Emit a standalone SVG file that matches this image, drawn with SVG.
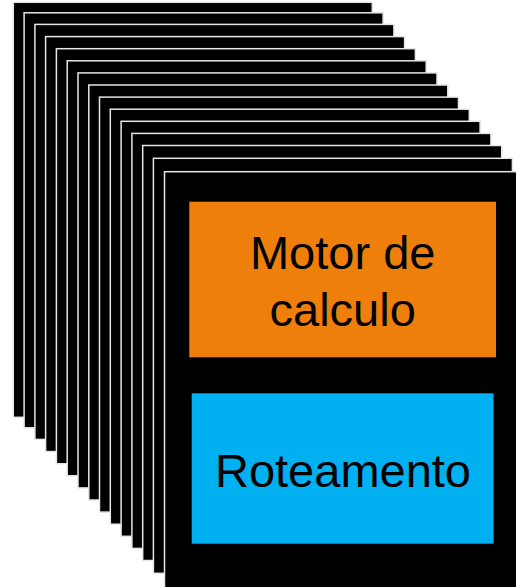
<svg xmlns="http://www.w3.org/2000/svg" width="516" height="587" viewBox="0 0 516 587">
<style>
.layer{fill:#000;stroke:#e6e6e6;stroke-width:1.5}
.lbl{font-family:"Liberation Sans",Arial,sans-serif;font-size:47px;fill:#000;text-anchor:middle}
</style>
<rect width="516" height="587" fill="#fff"/>
<g id="stack">
<rect class="layer" x="13.3" y="2.3" width="359" height="415"/>
<rect class="layer" x="24.1" y="12.8" width="359" height="415"/>
<rect class="layer" x="34.9" y="24.4" width="359" height="415"/>
<rect class="layer" x="45.6" y="36.6" width="359" height="415"/>
<rect class="layer" x="56.4" y="48.7" width="359" height="415"/>
<rect class="layer" x="67.2" y="60.8" width="359" height="415"/>
<rect class="layer" x="78.0" y="72.9" width="359" height="415"/>
<rect class="layer" x="88.8" y="85.0" width="359" height="415"/>
<rect class="layer" x="99.5" y="97.1" width="359" height="415"/>
<rect class="layer" x="110.3" y="109.2" width="359" height="415"/>
<rect class="layer" x="121.1" y="121.3" width="359" height="415"/>
<rect class="layer" x="131.9" y="133.4" width="359" height="415"/>
<rect class="layer" x="142.7" y="145.5" width="359" height="415"/>
<rect class="layer" x="153.4" y="158.3" width="359" height="415"/>
<rect class="layer" x="164.5" y="171.7" width="359" height="417"/>
</g>
<g id="motor">
<rect x="189.3" y="201.7" width="306.7" height="155.6" fill="#EE7F0A"/>
<text class="lbl" x="342.7" y="268.5">Motor de</text>
<text class="lbl" x="342.7" y="325.5">calculo</text>
</g>
<g id="roteamento">
<rect x="191.7" y="393.3" width="301.9" height="150.4" fill="#00B0F0"/>
<text class="lbl" x="343" y="486.7">Roteamento</text>
</g>
<g id="connectors"/>
</svg>
